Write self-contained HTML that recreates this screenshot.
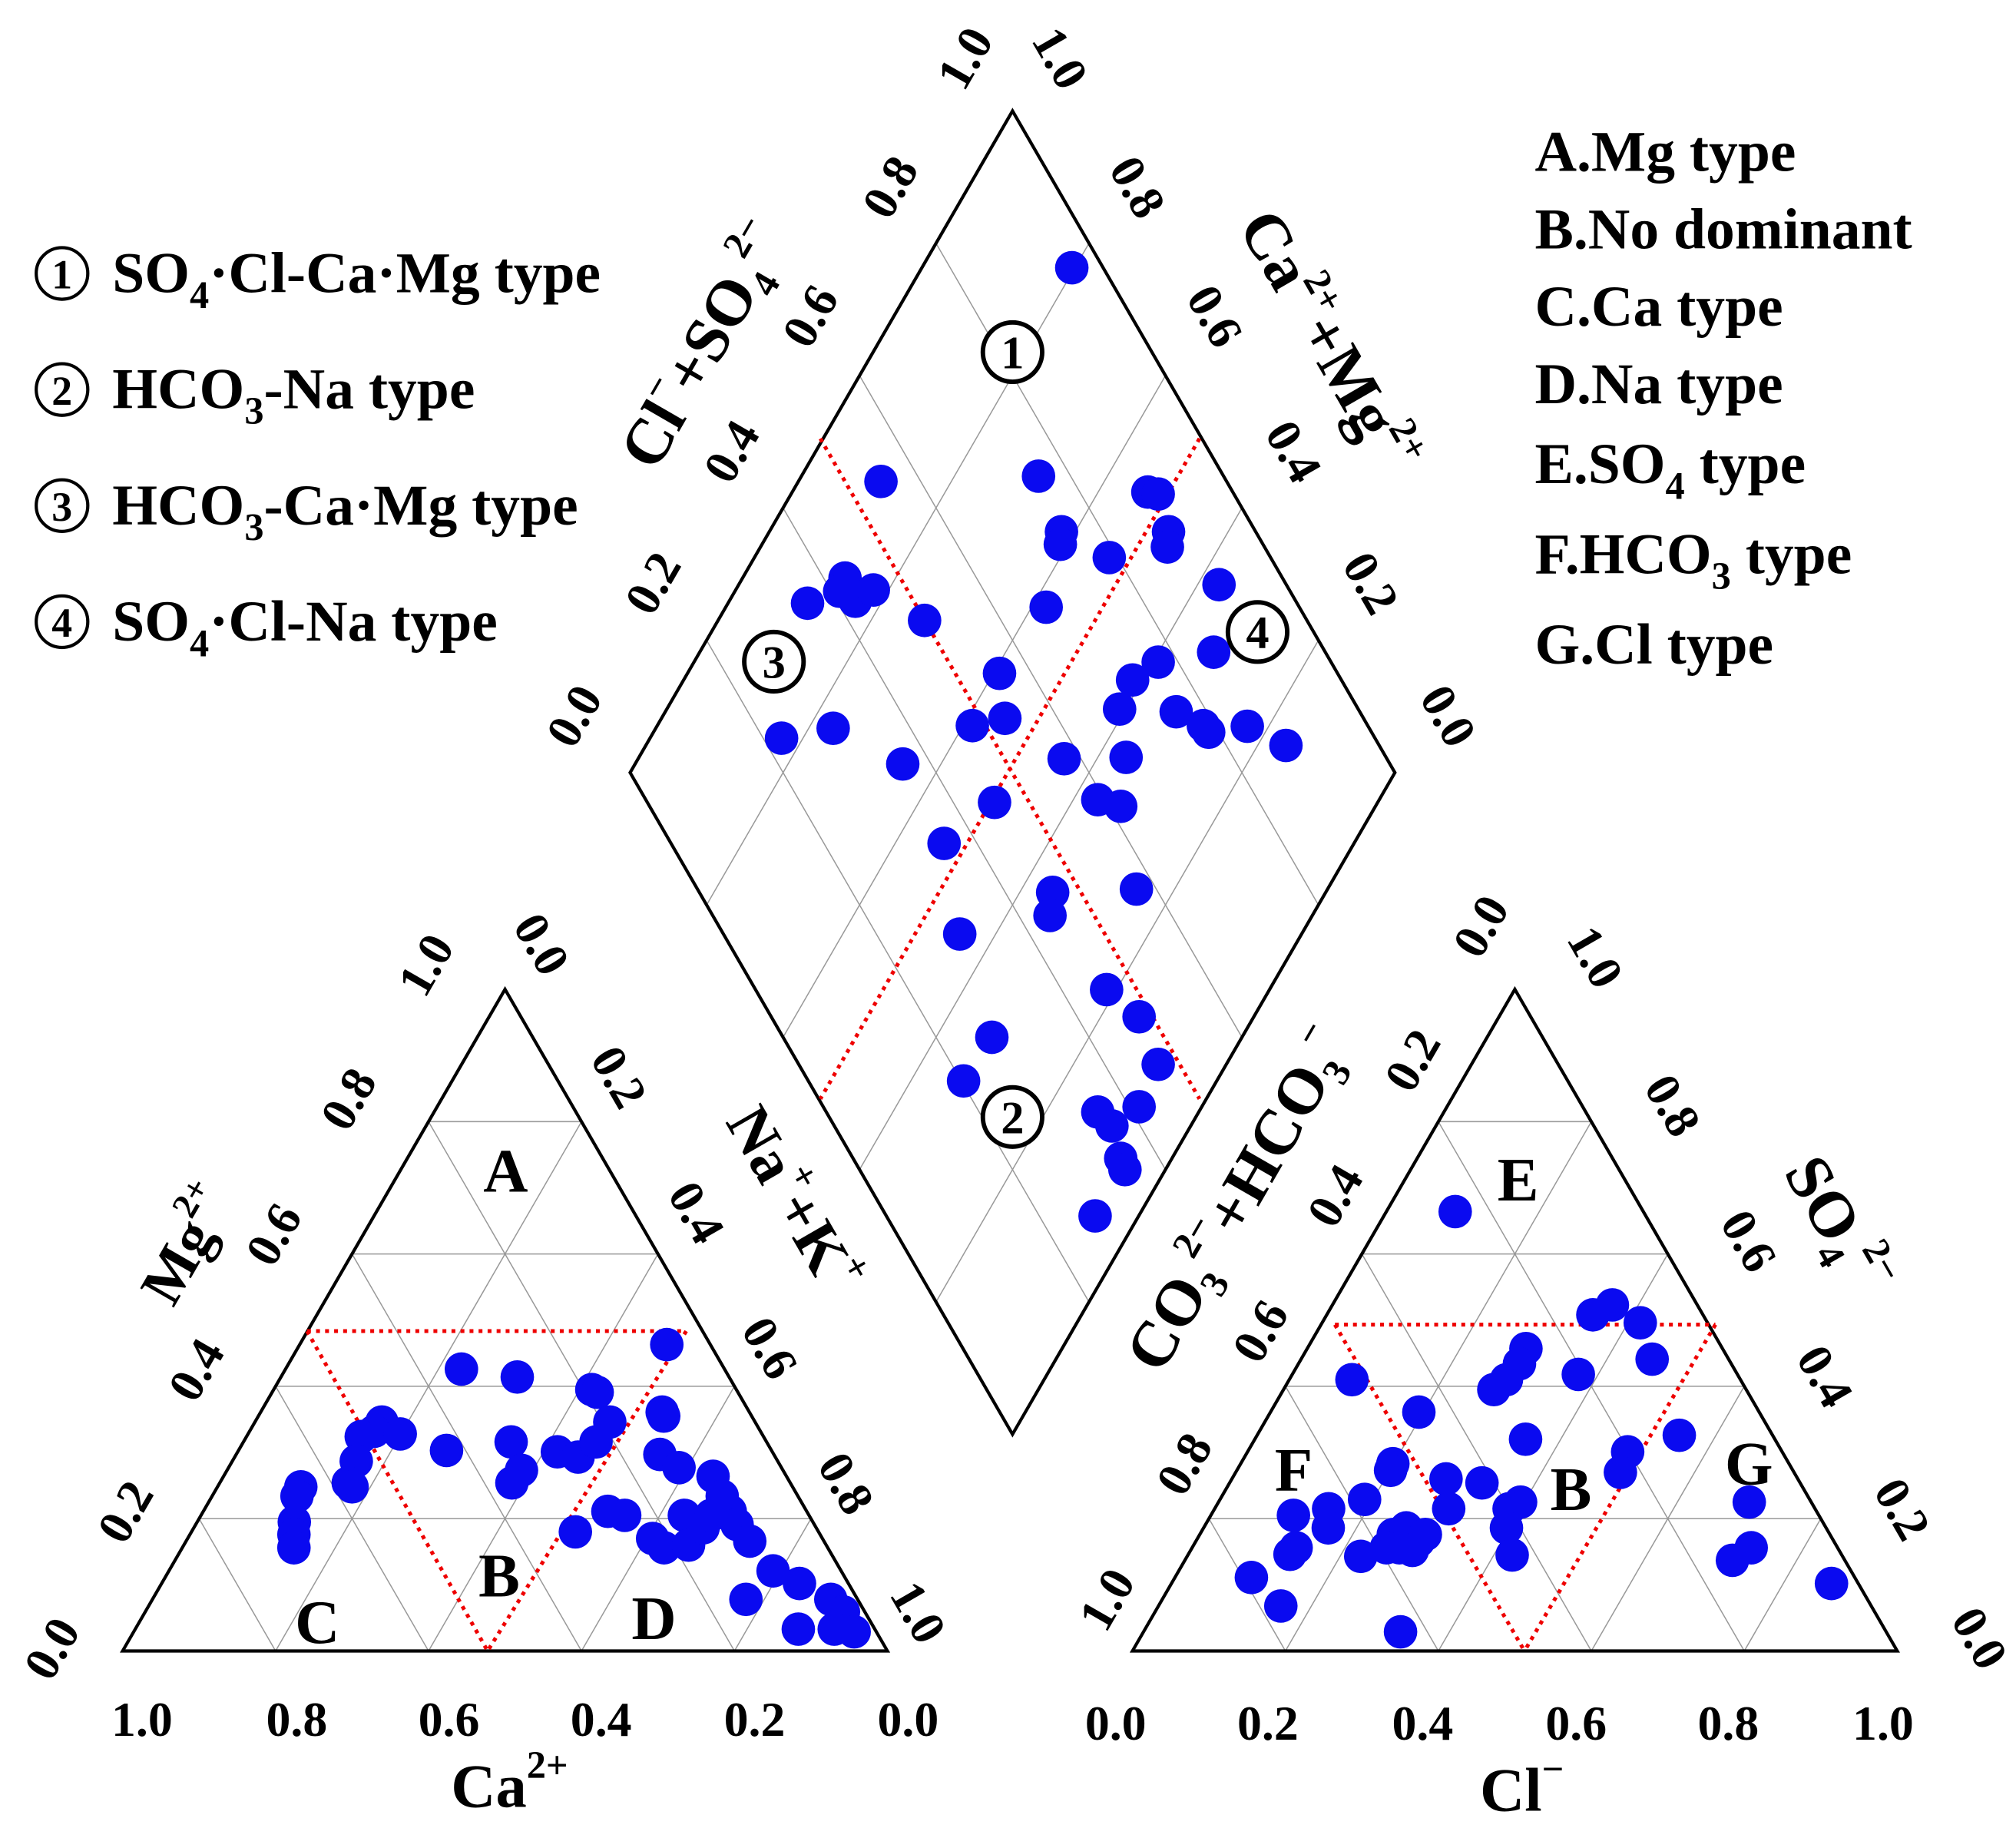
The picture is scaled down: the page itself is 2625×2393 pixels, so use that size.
<!DOCTYPE html>
<html><head><meta charset="utf-8"><style>
html,body{margin:0;padding:0;background:#fff;}
svg{display:block;}
text{font-family:"Liberation Serif",serif;font-weight:bold;fill:#000;}
</style></head><body>
<svg id="chart" width="2625" height="2393" viewBox="0 0 1563 1425" xmlns="http://www.w3.org/2000/svg">
<g id="grid"></g><g id="frames"></g><g id="red"></g><g id="pts"></g><g id="labels"></g>
</svg>
<script>
// cation triangle data
const cationCa=[0.344,0.277,0.189,0.184,0.057,0.488,0.505,0.526,0.473,0.551,0.578,0.425,0.334,0.342,0.364,0.281,0.258,0.223,0.190,0.114,0.115,0.149,0.134,0.096,0.099,0.100,0.318,0.260,0.241,0.222,0.214,0.163,0.180,0.148,0.128,0.101,0.097,0.089,0.064,0.035,0.028,0.053,0.029,0.146,0.100,0.643,0.655,0.678,0.688,0.698,0.576];
const cationMg=[0.426,0.414,0.395,0.391,0.463,0.346,0.332,0.324,0.328,0.287,0.254,0.303,0.316,0.273,0.254,0.301,0.293,0.316,0.346,0.361,0.355,0.297,0.277,0.264,0.234,0.211,0.180,0.211,0.205,0.170,0.156,0.205,0.160,0.186,0.205,0.191,0.166,0.121,0.102,0.078,0.059,0.033,0.029,0.078,0.033,0.248,0.234,0.195,0.176,0.156,0.248];
// anion triangle data
const anionCl=[0.090,0.082,0.194,0.348,0.366,0.416,0.459,0.286,0.289,0.284,0.275,0.374,0.354,0.552,0.497,0.503,0.199,0.201,0.280,0.330,0.306,0.395,0.385,0.396,0.424,0.189,0.149,0.108,0.133,0.136,0.163,0.227,0.253,0.265,0.291,0.295,0.271,0.290,0.254,0.100,0.160,0.336,0.694,0.731,0.716,0.863];
const anionSO4=[0.664,0.410,0.361,0.508,0.523,0.496,0.441,0.457,0.434,0.410,0.395,0.418,0.320,0.326,0.301,0.270,0.283,0.273,0.260,0.254,0.215,0.225,0.215,0.186,0.145,0.229,0.215,0.205,0.146,0.156,0.186,0.143,0.176,0.186,0.166,0.176,0.156,0.152,0.156,0.111,0.068,0.029,0.225,0.156,0.137,0.102];
// diamond data
const diaClSO4=[0.959,0.548,0.758,0.889,0.901,0.746,0.735,0.886,0.873,0.789,0.428,0.411,0.424,0.456,0.360,0.500,0.669,0.912,0.854,0.774,0.727,0.558,0.531,0.483,0.688,0.760,0.785,0.787,0.842,0.878,0.224,0.299,0.363,0.578,0.660,0.591,0.616,0.454,0.357,0.574,0.462,0.441,0.309,0.459,0.481,0.470,0.273,0.203,0.355,0.413,0.363,0.350,0.347,0.273];
const diaCaMg=[0.804,0.892,0.690,0.535,0.520,0.618,0.610,0.478,0.468,0.536,0.866,0.863,0.835,0.820,0.896,0.730,0.581,0.372,0.328,0.393,0.413,0.592,0.551,0.588,0.408,0.332,0.286,0.274,0.228,0.163,0.828,0.768,0.650,0.443,0.363,0.368,0.333,0.501,0.536,0.250,0.357,0.343,0.447,0.213,0.150,0.089,0.327,0.331,0.132,0.082,0.103,0.067,0.053,0.057];
const ticks=["0.0","0.2","0.4","0.6","0.8","1.0"];

const NS="http://www.w3.org/2000/svg";
function mk(tag,attrs,parent){const e=document.createElementNS(NS,tag);for(const k in attrs)e.setAttribute(k,attrs[k]);document.getElementById(parent).appendChild(e);return e;}
const W=593,H=513,BASE=1280;
const LX=95,RX=878;
const DB={x:785,y:1112};
function cat(ca,mg){const na=1-ca-mg;return {x:LX+(na+mg/2)*W,y:BASE-mg*H};}
function ani(cl,so4){return {x:RX+(cl+so4/2)*W,y:BASE-so4*H};}
function dia(a,b){return {x:DB.x+(a-b)*W/2,y:DB.y-(a+b)*H};}
function line(p,q,par,st,nm){const l=mk('line',{x1:p.x,y1:p.y,x2:q.x,y2:q.y,stroke:st.c,'stroke-width':st.w},par);if(st.d)l.setAttribute('stroke-dasharray',st.d);return l;}
const G={c:'#999',w:0.9},R={c:'#e00',w:3,d:'3,4'};
[['cation'],['anion']].forEach(([n])=>{
  const fx=(n==='cation')?((u,v)=>cat(1-u-v,v)):((u,v)=>ani(u,v));
  for(let i=1;i<5;i++){const t=i/5;
    line(fx(0,t),fx(1-t,t),'grid',G,n+'-grid-line');
    line(fx(t,0),fx(t,1-t),'grid',G,n+'-grid-line');
    line(fx(t,0),fx(0,t),'grid',G,n+'-grid-line');
  }
  const a=fx(0,0),b=fx(1,0),c=fx(0,1);
  mk('polygon',{points:`${a.x},${a.y} ${b.x},${b.y} ${c.x},${c.y}`,fill:'none',stroke:'#000','stroke-width':2.5,},'frames');
});
for(let i=1;i<5;i++){const t=i/5;
  line(dia(t,0),dia(t,1),'grid',G,'diamond-grid-line');
  line(dia(0,t),dia(1,t),'grid',G,'diamond-grid-line');}
{const p=[dia(0,0),dia(1,0),dia(1,1),dia(0,1)];
mk('polygon',{points:p.map(q=>q.x+','+q.y).join(' '),fill:'none',stroke:'#000','stroke-width':2.5,},'frames');}
line({x:238,y:1032},{x:532,y:1032},'red',R,'cation-divider');
line({x:238,y:1032},{x:378,y:1280},'red',R,'cation-divider');
line({x:532,y:1032},{x:378,y:1280},'red',R,'cation-divider');
line({x:1035,y:1027},{x:1330,y:1027},'red',R,'anion-divider');
line({x:1035,y:1027},{x:1182,y:1280},'red',R,'anion-divider');
line({x:1330,y:1027},{x:1182,y:1280},'red',R,'anion-divider');
line({x:636,y:340},{x:930,y:852},'red',R,'diamond-divider');
line({x:930,y:340},{x:636,y:852},'red',R,'diamond-divider');
function dot(p,nm){const c=mk('circle',{cx:p.x,cy:p.y,r:13,fill:'#0a0af0'},'pts');}
cationCa.forEach((v,i)=>dot(cat(v,cationMg[i]),'cation-point'));
anionCl.forEach((v,i)=>dot(ani(v,anionSO4[i]),'anion-point'));
diaClSO4.forEach((v,i)=>dot(dia(v,diaCaMg[i]),'diamond-point'));
function txt(s,x,y,size,rot,nm,anchor){const t=mk('text',{x:x,y:y,'font-size':size,'text-anchor':anchor||'middle','dominant-baseline':'central'},'labels');
 if(rot)t.setAttribute('transform',`rotate(${rot} ${x} ${y})`);t.innerHTML=s;return t;}
const TS=38;
const catBX=[704,585,466,348,230,110];
ticks.forEach((s,i)=>txt(s,catBX[i],1333,TS,0,'ca-tick'));
const mgL=[[40,1278],[97,1172],[152,1062],[212,957],[270,852],[330,748]];
ticks.forEach((s,i)=>txt(s,mgL[i][0],mgL[i][1],TS,-60,'mg-tick'));
const naR=[[420,732],[480,835],[540,940],[597,1045],[656,1150],[712,1250]];
ticks.forEach((s,i)=>txt(s,naR[i][0],naR[i][1],TS,60,'na-k-tick'));
const clBX=[865,983,1103,1222,1340,1460];
ticks.forEach((s,i)=>txt(s,clBX[i],1336,TS,0,'cl-tick'));
const hcL=[[1148,718],[1095,822],[1035,927],[977,1032],[918,1135],[858,1240]];
ticks.forEach((s,i)=>txt(s,hcL[i][0],hcL[i][1],TS,-60,'hco3-tick'));
const soR=[[1535,1270],[1475,1170],[1415,1067],[1356,962],[1297,857],[1237,742]];
ticks.forEach((s,i)=>txt(s,soR[i][0],soR[i][1],TS,60,'so4-tick'));
const dL=[[445,555],[506,452],[567,350],[628,245],[690,145],[748,45]];
ticks.forEach((s,i)=>txt(s,dL[i][0],dL[i][1],TS,-60,'cl-so4-tick'));
const dR=[[1123,555],[1063,452],[1003,350],[942,245],[882,145],[822,45]];
ticks.forEach((s,i)=>txt(s,dR[i][0],dR[i][1],TS,60,'ca-mg-tick'));
txt('Mg<tspan baseline-shift="super" font-size="28">2+</tspan>',145,965,46,-60,'mg-axis-title');
txt('Ca<tspan baseline-shift="super" font-size="30">2+</tspan>',395,1385,48,0,'ca-axis-title');
txt('Na<tspan baseline-shift="super" font-size="30">+</tspan>+K<tspan baseline-shift="super" font-size="30">+</tspan>',615,930,48,60,'na-k-axis-title');
txt('Cl<tspan baseline-shift="super" font-size="30">−</tspan>+SO<tspan baseline-shift="sub" font-size="30">4</tspan><tspan baseline-shift="super" font-size="30">2−</tspan>',546,268,50,-60,'cl-so4-axis-title');
txt('Ca<tspan baseline-shift="super" font-size="30">2+</tspan>+Mg<tspan baseline-shift="super" font-size="30">2+</tspan>',1030,265,50,60,'ca-mg-axis-title');
txt('CO<tspan baseline-shift="sub" font-size="30">3</tspan><tspan baseline-shift="super" font-size="30">2−</tspan>+HCO<tspan baseline-shift="sub" font-size="30">3</tspan><tspan baseline-shift="super" font-size="30">−</tspan>',960,930,50,-60,'hco3-axis-title');
txt('SO<tspan baseline-shift="sub" font-size="30">4</tspan><tspan baseline-shift="super" font-size="30">2−</tspan>',1425,950,50,60,'so4-axis-title');
txt('Cl<tspan baseline-shift="super" font-size="30">−</tspan>',1180,1388,48,0,'cl-axis-title');
[['A',392,908],['B',387,1222],['C',246,1258],['D',507,1255],['E',1177,915],['F',1003,1140],['G',1356,1135],['B',1218,1155]].forEach(a=>txt(a[0],a[1],a[2],48,0,'region-label-'+a[0].toLowerCase()));
[['1',785,273],['2',785,866],['3',600,513],['4',975,490]].forEach(a=>{
  const c=mk('circle',{cx:a[1],cy:a[2],r:23,fill:'#fff',stroke:'#000','stroke-width':3.5},'labels');
  
  txt(a[0],a[1],a[2]+1,36,0,'zone-number-'+a[0]);});
const legL=[['1','SO<tspan baseline-shift="sub" font-size="30">4</tspan>·Cl-Ca·Mg type',212],['2','HCO<tspan baseline-shift="sub" font-size="30">3</tspan>-Na type',302],['3','HCO<tspan baseline-shift="sub" font-size="30">3</tspan>-Ca·Mg type',392],['4','SO<tspan baseline-shift="sub" font-size="30">4</tspan>·Cl-Na type',482]];
legL.forEach(a=>{
  const c=mk('circle',{cx:48,cy:a[2],r:20,fill:'none',stroke:'#000','stroke-width':2.5},'labels');
  
  txt(a[0],48,a[2]+1,32,0,'legend-number-'+a[0]);
  txt(a[1],87,a[2],45,0,'legend-entry-'+a[0],'start');});
const legR=[['A.Mg type',118],['B.No dominant',178],['C.Ca type',238],['D.Na type',298],['E.SO<tspan baseline-shift="sub" font-size="30">4</tspan> type',360],['F.HCO<tspan baseline-shift="sub" font-size="30">3</tspan> type',430],['G.Cl type',500]];
legR.forEach(a=>txt(a[0],1190,a[1],45,0,'type-legend-entry','start'));
</script>
</body></html>
